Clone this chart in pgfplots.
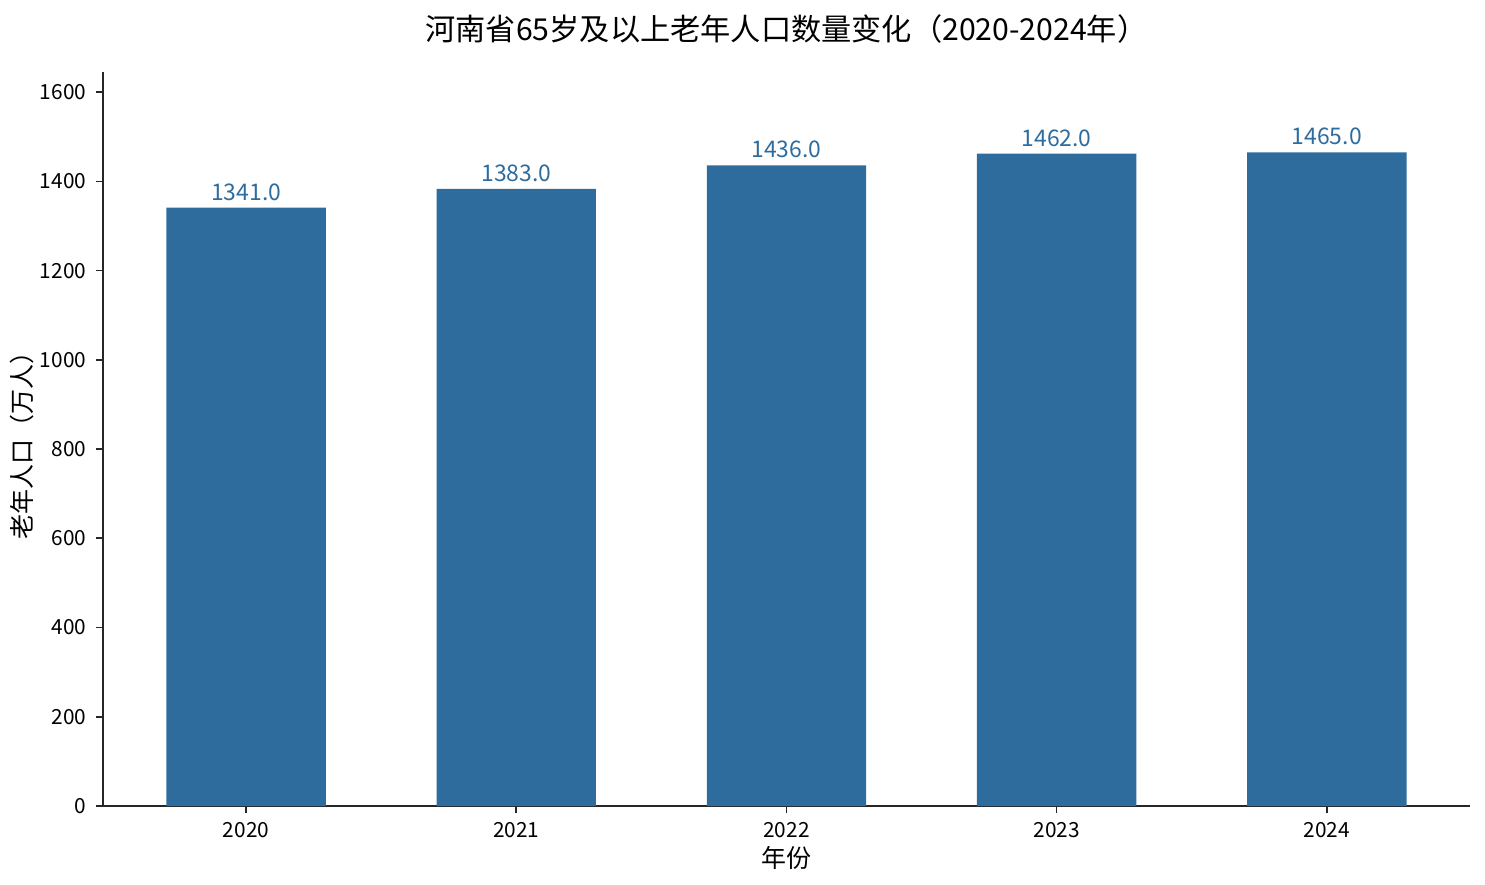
\documentclass[border=0pt]{standalone}
\usepackage{fontspec}
\setmainfont{Noto Sans CJK SC}
\usepackage{pgfplots}
\pgfplotsset{compat=1.18}
\definecolor{barblue}{HTML}{2E6C9E}
\begin{document}
\begin{tikzpicture}
\useasboundingbox (-49.4pt,-37.9pt) rectangle (663.4pt,386.9pt);
\begin{axis}[
  scale only axis,
  width=656.2pt, height=352.3pt,
  at={(0,0)}, anchor=south west,
  xmin=-0.53, xmax=4.53,
  ymin=0, ymax=1645,
  axis x line*=bottom, axis y line*=left,
  axis line style={line width=0.8pt, black!85},
  tick style={line width=0.8pt, black!85},
  tick align=outside,
  major tick length=3.5pt,
  xtick={0,1,2,3,4},
  xticklabels={2020,2021,2022,2023,2024},
  ytick={0,200,400,600,800,1000,1200,1400,1600},
  /pgf/number format/assume math mode=true,
  /pgf/number format/1000 sep={},
  ticklabel style={font=\fontsize{10}{12}\selectfont},
  yticklabel style={xshift=-1pt},
  xticklabel style={yshift=-1pt},
  title={河南省65岁及以上老年人口数量变化（2020-2024年）},
  title style={font=\fontsize{14.5}{16}\selectfont, yshift=4pt},
  xlabel={年份},
  ylabel={老年人口（万人）},
  label style={font=\fontsize{12}{14}\selectfont},
  xlabel style={yshift=3pt},
  ylabel style={yshift=-4pt},
  ybar, bar width=0.59,
  nodes near coords={\pgfmathprintnumber[fixed,fixed zerofill,precision=1,1000 sep={},assume math mode=true]{\pgfplotspointmeta}},
  nodes near coords style={font=\fontsize{11}{13}\selectfont, text=barblue, anchor=south, yshift=0pt},
  clip=false,
]
\addplot[fill=barblue, draw=none] coordinates {(0,1341) (1,1383) (2,1436) (3,1462) (4,1465)};
\end{axis}
\end{tikzpicture}
\end{document}
